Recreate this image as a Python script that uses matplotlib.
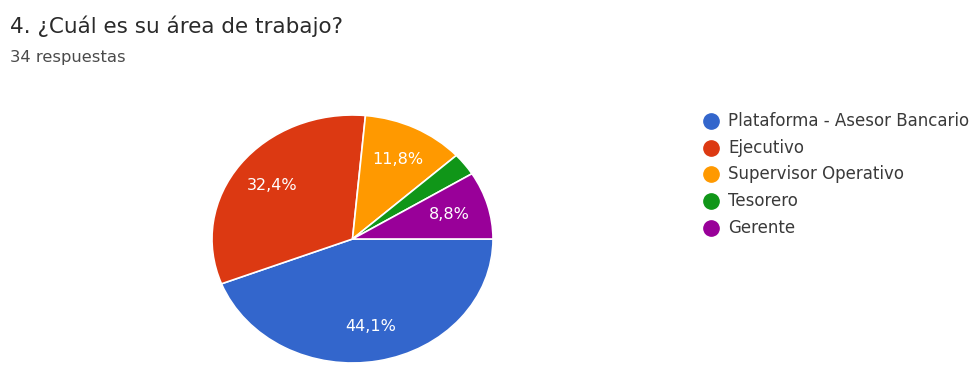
import matplotlib.pyplot as plt
from matplotlib.lines import Line2D

# Respuestas por área de trabajo (34 en total)
areas = ['Plataforma - Asesor Bancario', 'Ejecutivo', 'Supervisor Operativo',
         'Tesorero', 'Gerente']
respuestas = [15, 11, 4, 1, 3]
colores = ['#3366cc', '#dc3912', '#ff9900', '#109618', '#990099']

W, H = 977, 367
fig = plt.figure(figsize=(W / 100, H / 100), dpi=100)
fig.patch.set_facecolor('white')
plt.rcParams['font.family'] = 'DejaVu Sans'

fig.text(10 / W, 1 - 33 / H, '4. ¿Cuál es su área de trabajo?', fontsize=15.5,
         color='#2a2a2a', va='baseline', ha='left')
fig.text(10 / W, 1 - 62 / H, '34 respuestas', fontsize=11.8,
         color='#4a4a4a', va='baseline', ha='left')

# pie area (slightly squashed vertically)
ax = fig.add_axes([212 / W, 1 - 363 / H, 281 / W, 248 / H])


def etiqueta(pct):
    if pct < 5:
        return ''
    return f'{pct:.1f}%'.replace('.', ',')


wedges, textos, autotextos = ax.pie(
    respuestas, colors=colores, startangle=0, counterclock=False,
    autopct=etiqueta, pctdistance=0.72,
    wedgeprops=dict(edgecolor='white', linewidth=1.2),
    textprops=dict(color='white', fontsize=11.5))
ax.set_aspect('auto')
ax.set_xlim(-1, 1)
ax.set_ylim(-1, 1)
ax.axis('off')

# legend on the right: coloured dot + label per row
for i, (area, c) in enumerate(zip(areas, colores)):
    y = 1 - (121 + i * 26.7) / H
    fig.add_artist(Line2D([711 / W], [y], marker='o', linestyle='',
                          markersize=11, markerfacecolor=c,
                          markeredgecolor=c, transform=fig.transFigure))
    fig.text(728 / W, y, area, fontsize=12, color='#3a3a3a',
             va='center', ha='left')

fig.savefig('out.png', dpi=100)
